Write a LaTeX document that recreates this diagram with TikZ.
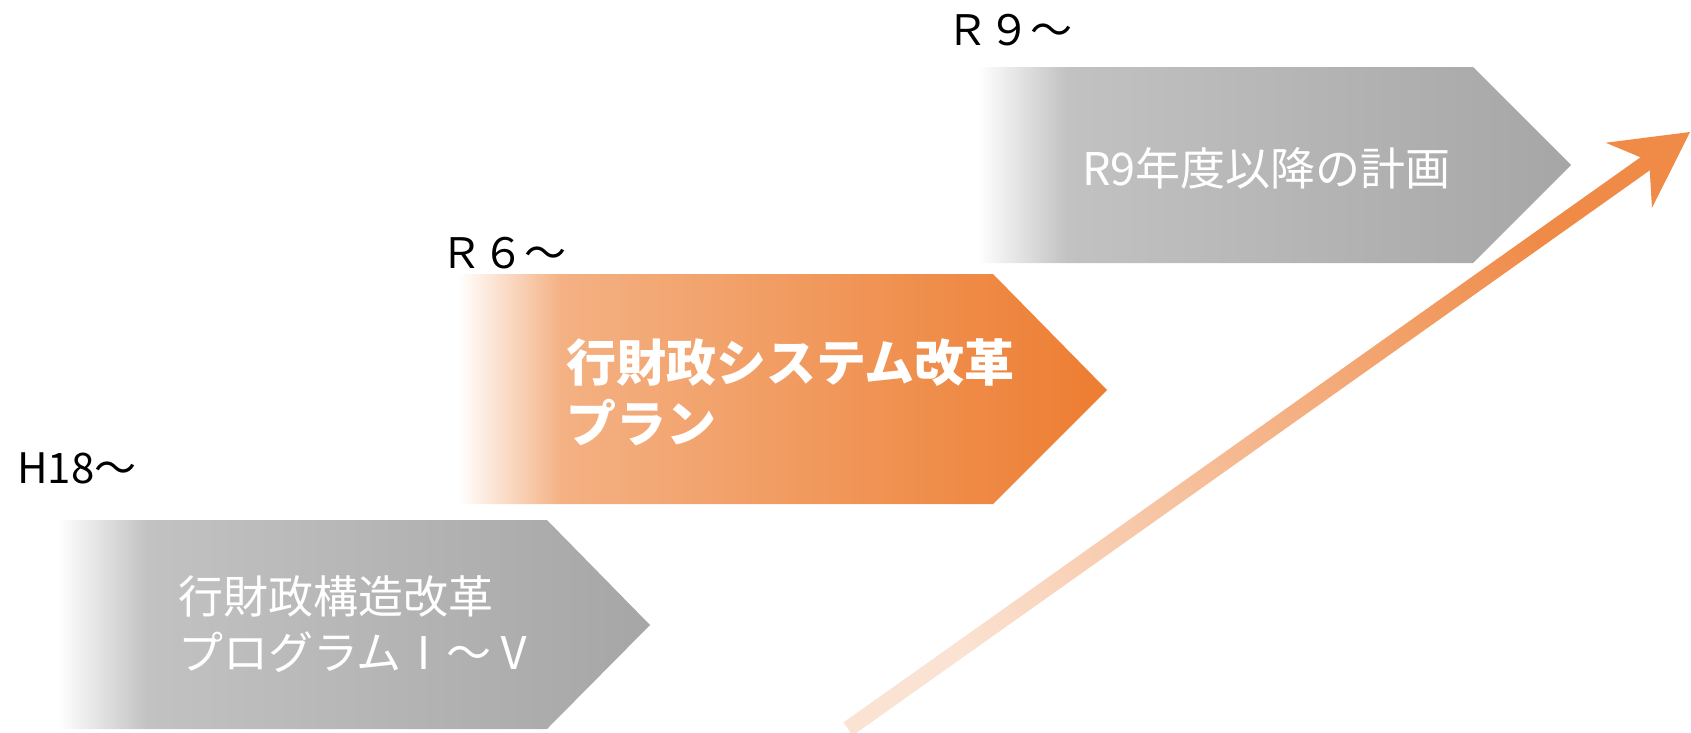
\documentclass[tikz,border=0pt]{standalone}
\usepackage{fontspec}
\usepackage{xcolor}
\usepackage{tikz}
\usetikzlibrary{calc}
\newfontfamily\jpfont{Noto Sans CJK JP}
\definecolor{ink}{HTML}{000000}
\definecolor{barlight}{HTML}{C2C2C2}
\definecolor{bardark}{HTML}{A6A6A6}
\definecolor{planlight}{HTML}{F4B183}
\definecolor{plandark}{HTML}{ED7D31}
\definecolor{trendlow}{HTML}{FBE3D3}
\definecolor{trendhigh}{HTML}{EF8A47}
\pgfdeclarehorizontalshading{grayfade}{100bp}{color(0bp)=(white); color(25bp)=(white); color(32.5bp)=(barlight); color(75bp)=(bardark); color(100bp)=(bardark)}
\pgfdeclarehorizontalshading{orangefade}{100bp}{color(0bp)=(white); color(25bp)=(white); color(33bp)=(planlight); color(75bp)=(plandark); color(100bp)=(plandark)}
\tikzset{
  graybar/.style={shading=grayfade},
  planbar/.style={shading=orangefade},
  era/.style={text=ink, font=\jpfont\fontsize{42}{50}\selectfont, inner sep=0pt, anchor=base west},
  barlab/.style={text=white, font=\jpfont\fontsize{45}{56}\selectfont, inner sep=0pt, anchor=west, align=left},
  planlab/.style={text=white, font=\jpfont\bfseries\fontsize{50}{61}\selectfont, inner sep=0pt, anchor=west, align=left},
}
\begin{document}
\begin{tikzpicture}[x=1pt, y=-1pt]
\useasboundingbox (0,0) rectangle (1691,732);
% steps
\shade[graybar] (58,520) -- (547,520) -- (650,625) -- (547,729) -- (58,729) -- cycle;
\shade[planbar] (458,274) -- (993,274) -- (1107,390) -- (993,504) -- (458,504) -- cycle;
\shade[graybar] (978,67) -- (1473,67) -- (1571,165) -- (1473,263) -- (978,263) -- cycle;
% period labels
\node[era] (h18) at (17,483) {H18〜};
\node[era] (r6) at (440,268) {Ｒ６〜};
\node[era] (r9) at (946,45) {Ｒ９〜};
% step texts
\node[barlab] (kozo) at (178,624) {行財政構造改革\\プログラムⅠ〜Ⅴ};
\node[planlab] (system) at (566,392) {行財政システム改革\\プラン};
\node[barlab] (keikaku) at (1082,168) {R9年度以降の計画};
% trend arrow
\coordinate (trendfoot) at (848,729);
\coordinate (trendtip) at (1690,132);
\coordinate (headback) at ($(trendtip)!75pt!(trendfoot)$);
\coordinate (notch) at ($(trendtip)!50pt!(trendfoot)$);
\coordinate (shaftend) at ($(trendtip)!45pt!(trendfoot)$);
\shade[top color=trendhigh, bottom color=trendlow, shading angle=-54.5]
  ($(trendfoot)!8pt!90:(trendtip)$) -- ($(shaftend)!8pt!-90:(trendfoot)$)
  -- ($(shaftend)!8pt!90:(trendfoot)$) -- ($(trendfoot)!8pt!-90:(trendtip)$) -- cycle;
\fill[trendhigh] (trendtip) -- ($(headback)!40pt!90:(trendtip)$) -- (notch)
  -- ($(headback)!40pt!-90:(trendtip)$) -- cycle;
\end{tikzpicture}
\end{document}
